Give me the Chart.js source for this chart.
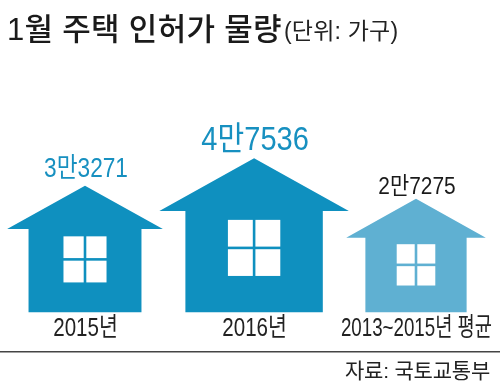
<!DOCTYPE html>
<html>
<head>
<meta charset="utf-8">
<style>
html,body{margin:0;padding:0;background:#fff;}
canvas{display:block;}
</style>
<script src="https://cdn.jsdelivr.net/npm/chart.js@4/dist/chart.umd.min.js"></script>
</head>
<body>
<canvas id="myChart" width="500" height="387"></canvas>
<script>
// datos
var categorias = ["2015년", "2016년", "2013~2015년 평균"];
var valores = [33271, 47536, 27275];
var etiquetas = ["3만3271", "4만7536", "2만7275"];
var titulo = "1월 주택 인허가 물량";
var unidad = "(단위: 가구)";
var fuente = "자료: 국토교통부";

var coloresCasa = ["#0f90bf", "#0f90bf", "#5fb0d2"];
var coloresEtiqueta = ["#1790c0", "#1790c0", "#1a1a1a"];
var tamanosEtiqueta = [27, 33, 24];
var anchoEtiqueta = [0.84, 0.88, 0.87];
var separacionEtiqueta = [9, 8, 5];
var anchoTick = [0.79, 0.79, 0.72];
var FAMILIA = '"Liberation Sans","Noto Sans CJK KR",sans-serif';

// texto estrechado, no hay fuente narrow instalada
function texto(ctx, str, x, y, font, color, align, spacing, ancho) {
    ctx.save();
    ctx.font = font;
    ctx.fillStyle = color;
    ctx.textAlign = align;
    ctx.textBaseline = "alphabetic";
    ctx.letterSpacing = spacing;
    ctx.translate(x, y);
    ctx.scale(ancho || 1, 1);
    ctx.fillText(str, 0, 0);
    ctx.restore();
}

// las casas crecen por area, no por altura
class PowerScale extends Chart.LinearScale {
    getPixelForValue(v) {
        return this.getPixelForDecimal(Math.pow(v / this.max, 0.55));
    }
    getValueForPixel(p) {
        return Math.pow(this.getDecimalForPixel(p), 1 / 0.55) * this.max;
    }
}
PowerScale.id = "power";
PowerScale.defaults = Chart.LinearScale.defaults;

// la casa del medio no esta justo a mitad de camino
var ajusteX = [0, 3.6, 0];
class HouseAxis extends Chart.CategoryScale {
    getPixelForValue(v, i) {
        return super.getPixelForValue(v, i) + (ajusteX[Math.round(v)] || 0);
    }
    drawLabels(area) {
        this.getLabelItems(area).forEach((item, i) => {
            texto(this.ctx, item.label, item.options.translation[0] + 0.5, 336,
                "26px " + FAMILIA, "#222", "center", "0px", anchoTick[i]);
        });
    }
}
HouseAxis.id = "houseAxis";
HouseAxis.defaults = Chart.CategoryScale.defaults;
Chart.register(PowerScale, HouseAxis);

var casas = {
    id: "casas",
    afterDatasetsDraw(chart) {
        var ctx = chart.ctx;
        var puntos = chart.getDatasetMeta(0).data;
        puntos.forEach((bar, i) => {
            var h = bar.base - bar.y;
            var alero = bar.base - h * 0.657;
            var techo = h * 0.615;
            var cuerpo = h * 0.446;
            ctx.save();
            ctx.fillStyle = coloresCasa[i];
            ctx.beginPath();
            ctx.moveTo(bar.x, bar.y);
            ctx.lineTo(bar.x + techo, alero);
            ctx.lineTo(bar.x + cuerpo, alero);
            ctx.lineTo(bar.x + cuerpo, bar.base);
            ctx.lineTo(bar.x - cuerpo, bar.base);
            ctx.lineTo(bar.x - cuerpo, alero);
            ctx.lineTo(bar.x - techo, alero);
            ctx.closePath();
            ctx.fill();

            // ventana
            var ancho = h * 0.34, arriba = bar.base - h * 0.6, abajo = bar.base - h * 0.236;
            var medio = (arriba + abajo) / 2, g = 1.3;
            ctx.fillStyle = "#fff";
            ctx.fillRect(bar.x - ancho / 2, arriba, ancho / 2 - g, medio - g - arriba);
            ctx.fillRect(bar.x + g, arriba, ancho / 2 - g, medio - g - arriba);
            ctx.fillRect(bar.x - ancho / 2, medio + g, ancho / 2 - g, abajo - medio - g);
            ctx.fillRect(bar.x + g, medio + g, ancho / 2 - g, abajo - medio - g);
            ctx.restore();

            texto(ctx, etiquetas[i], bar.x + 1, bar.y - separacionEtiqueta[i],
                tamanosEtiqueta[i] + "px " + FAMILIA, coloresEtiqueta[i], "center", "0px", anchoEtiqueta[i]);
        });

        texto(ctx, titulo, 7, 40, "500 31px " + FAMILIA, "#1a1a1a", "left", "0.3px");
        texto(ctx, unidad, 284, 39, "23px " + FAMILIA, "#222", "left", "0.2px");
        texto(ctx, fuente, 490, 378, "21px " + FAMILIA, "#222", "right", "-0.2px");

        ctx.save();
        ctx.strokeStyle = "#444";
        ctx.lineWidth = 1.5;
        ctx.beginPath();
        ctx.moveTo(0, 351.7);
        ctx.lineTo(500, 351.7);
        ctx.stroke();
        ctx.restore();
    }
};

var ctx = document.getElementById("myChart").getContext("2d");
var chart = new Chart(ctx, {
    type: "bar",
    data: {
        labels: categorias,
        datasets: [{
            label: "1월 주택 인허가 물량",
            data: valores,
            backgroundColor: "rgba(0,0,0,0)",
            borderWidth: 0
        }]
    },
    options: {
        responsive: false,
        animation: false,
        layout: { padding: { left: 2.25, right: 1.25, top: 80.4, bottom: 0 } },
        plugins: { legend: { display: false }, tooltip: { enabled: false }, title: { display: false } },
        scales: {
            x: {
                type: "houseAxis",
                offset: true,
                grid: { display: false },
                border: { display: false },
                ticks: {
                    color: "#222",
                    maxRotation: 0,
                    autoSkip: false,
                    padding: 0,
                    font: { family: FAMILIA, size: 22 }
                },
                afterFit(scale) {
                    scale.height = 74.7;
                    scale.paddingLeft = 0;
                    scale.paddingRight = 0;
                }
            },
            y: { type: "power", display: false, min: 0, max: 100000 }
        }
    },
    plugins: [casas]
});
</script>
</body>
</html>
